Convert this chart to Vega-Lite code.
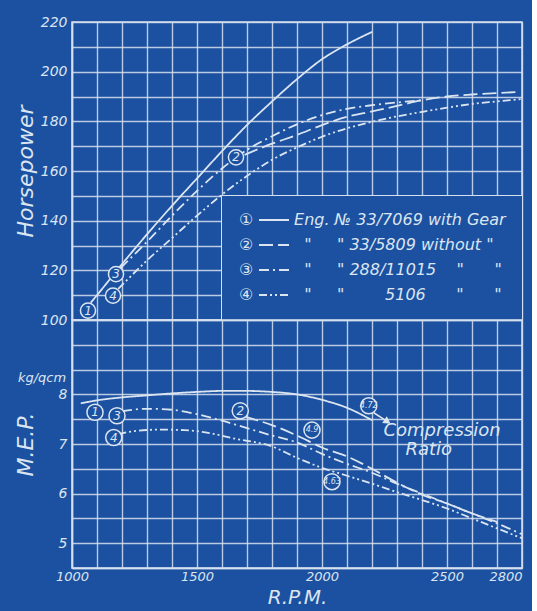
{
  "$schema": "https://vega.github.io/schema/vega-lite/v6.json",
  "background": "#1b51a0",
  "padding": {"left": 13, "top": 14, "right": 5, "bottom": 5},
  "bounds": "flush",
  "spacing": 0,
  "config": {
    "view": {"stroke": "#d6e1ef", "strokeWidth": 1.5},
    "axis": {
      "gridColor": "#d6e1ef", "gridWidth": 1.4, "gridOpacity": 0.85,
      "domainColor": "#d6e1ef", "domainWidth": 1.5, "ticks": false,
      "labelColor": "#dbe5f1", "labelFont": "DejaVu Sans", "labelFontStyle": "italic",
      "labelFontSize": 14, "labelPadding": 5, "labelOverlap": false, "labelFlush": false, "labelBound": false,
      "titleColor": "#dbe5f1", "titleFont": "DejaVu Sans", "titleFontStyle": "italic",
      "titleFontWeight": "normal", "titleFontSize": 22
    },
    "text": {"font": "DejaVu Sans", "fontStyle": "italic", "color": "#dbe5f1"}
  },
  "datasets": {
    "hp": [
      {"curve": "1", "rpm": 1075, "hp": 107},
      {"curve": "1", "rpm": 1100, "hp": 110},
      {"curve": "1", "rpm": 1200, "hp": 122.5},
      {"curve": "1", "rpm": 1300, "hp": 134.5},
      {"curve": "1", "rpm": 1400, "hp": 146},
      {"curve": "1", "rpm": 1500, "hp": 157},
      {"curve": "1", "rpm": 1600, "hp": 168},
      {"curve": "1", "rpm": 1700, "hp": 178.5},
      {"curve": "1", "rpm": 1800, "hp": 188},
      {"curve": "1", "rpm": 1900, "hp": 197},
      {"curve": "1", "rpm": 2000, "hp": 205},
      {"curve": "1", "rpm": 2100, "hp": 211},
      {"curve": "1", "rpm": 2200, "hp": 216},
      {"curve": "2", "rpm": 1690, "hp": 166.5},
      {"curve": "2", "rpm": 1800, "hp": 171},
      {"curve": "2", "rpm": 1900, "hp": 174.5},
      {"curve": "2", "rpm": 2000, "hp": 178.5},
      {"curve": "2", "rpm": 2100, "hp": 181.8},
      {"curve": "2", "rpm": 2200, "hp": 184},
      {"curve": "2", "rpm": 2300, "hp": 186.2},
      {"curve": "2", "rpm": 2400, "hp": 188.5},
      {"curve": "2", "rpm": 2500, "hp": 190},
      {"curve": "2", "rpm": 2600, "hp": 190.8},
      {"curve": "2", "rpm": 2700, "hp": 191.4},
      {"curve": "2", "rpm": 2790, "hp": 191.8},
      {"curve": "3", "rpm": 1195, "hp": 121},
      {"curve": "3", "rpm": 1300, "hp": 131.5},
      {"curve": "3", "rpm": 1400, "hp": 142},
      {"curve": "3", "rpm": 1500, "hp": 152},
      {"curve": "3", "rpm": 1600, "hp": 161},
      {"curve": "3", "rpm": 1700, "hp": 168.5},
      {"curve": "3", "rpm": 1800, "hp": 174},
      {"curve": "3", "rpm": 1900, "hp": 178.8},
      {"curve": "3", "rpm": 2000, "hp": 182.5},
      {"curve": "3", "rpm": 2100, "hp": 185},
      {"curve": "3", "rpm": 2200, "hp": 186.5},
      {"curve": "3", "rpm": 2300, "hp": 187.6},
      {"curve": "3", "rpm": 2400, "hp": 188.5},
      {"curve": "4", "rpm": 1185, "hp": 112.5},
      {"curve": "4", "rpm": 1300, "hp": 124},
      {"curve": "4", "rpm": 1400, "hp": 133},
      {"curve": "4", "rpm": 1500, "hp": 142},
      {"curve": "4", "rpm": 1600, "hp": 150.5},
      {"curve": "4", "rpm": 1700, "hp": 158},
      {"curve": "4", "rpm": 1800, "hp": 164.5},
      {"curve": "4", "rpm": 1900, "hp": 169.5},
      {"curve": "4", "rpm": 2000, "hp": 173.8},
      {"curve": "4", "rpm": 2100, "hp": 177.2},
      {"curve": "4", "rpm": 2200, "hp": 179.8},
      {"curve": "4", "rpm": 2300, "hp": 182},
      {"curve": "4", "rpm": 2400, "hp": 183.8},
      {"curve": "4", "rpm": 2500, "hp": 185.5},
      {"curve": "4", "rpm": 2600, "hp": 187},
      {"curve": "4", "rpm": 2700, "hp": 188},
      {"curve": "4", "rpm": 2800, "hp": 189}
    ],
    "mep": [
      {"curve": "1", "rpm": 1035, "mep": 7.82},
      {"curve": "1", "rpm": 1100, "mep": 7.88},
      {"curve": "1", "rpm": 1200, "mep": 7.94},
      {"curve": "1", "rpm": 1300, "mep": 7.98},
      {"curve": "1", "rpm": 1400, "mep": 8.02},
      {"curve": "1", "rpm": 1500, "mep": 8.05},
      {"curve": "1", "rpm": 1600, "mep": 8.07},
      {"curve": "1", "rpm": 1700, "mep": 8.07},
      {"curve": "1", "rpm": 1800, "mep": 8.05},
      {"curve": "1", "rpm": 1900, "mep": 8.0},
      {"curve": "1", "rpm": 2000, "mep": 7.89},
      {"curve": "1", "rpm": 2100, "mep": 7.73},
      {"curve": "1", "rpm": 2200, "mep": 7.48},
      {"curve": "2", "rpm": 1690, "mep": 7.55},
      {"curve": "2", "rpm": 1800, "mep": 7.38},
      {"curve": "2", "rpm": 1900, "mep": 7.17},
      {"curve": "2", "rpm": 2000, "mep": 6.93},
      {"curve": "2", "rpm": 2100, "mep": 6.75},
      {"curve": "2", "rpm": 2200, "mep": 6.5},
      {"curve": "2", "rpm": 2300, "mep": 6.22},
      {"curve": "2", "rpm": 2400, "mep": 5.98},
      {"curve": "2", "rpm": 2500, "mep": 5.8},
      {"curve": "2", "rpm": 2600, "mep": 5.6},
      {"curve": "2", "rpm": 2700, "mep": 5.43},
      {"curve": "3", "rpm": 1200, "mep": 7.66},
      {"curve": "3", "rpm": 1300, "mep": 7.71},
      {"curve": "3", "rpm": 1400, "mep": 7.69},
      {"curve": "3", "rpm": 1500, "mep": 7.6},
      {"curve": "3", "rpm": 1600, "mep": 7.47},
      {"curve": "3", "rpm": 1700, "mep": 7.32},
      {"curve": "3", "rpm": 1800, "mep": 7.17},
      {"curve": "3", "rpm": 1900, "mep": 7.03},
      {"curve": "3", "rpm": 2000, "mep": 6.8},
      {"curve": "3", "rpm": 2100, "mep": 6.6},
      {"curve": "3", "rpm": 2200, "mep": 6.42},
      {"curve": "3", "rpm": 2300, "mep": 6.2},
      {"curve": "3", "rpm": 2400, "mep": 6.0},
      {"curve": "3", "rpm": 2500, "mep": 5.8},
      {"curve": "3", "rpm": 2600, "mep": 5.6},
      {"curve": "3", "rpm": 2700, "mep": 5.4},
      {"curve": "3", "rpm": 2800, "mep": 5.18},
      {"curve": "4", "rpm": 1185, "mep": 7.2},
      {"curve": "4", "rpm": 1250, "mep": 7.26},
      {"curve": "4", "rpm": 1350, "mep": 7.29},
      {"curve": "4", "rpm": 1450, "mep": 7.28},
      {"curve": "4", "rpm": 1550, "mep": 7.22},
      {"curve": "4", "rpm": 1650, "mep": 7.11},
      {"curve": "4", "rpm": 1800, "mep": 6.95},
      {"curve": "4", "rpm": 1900, "mep": 6.72},
      {"curve": "4", "rpm": 2000, "mep": 6.52},
      {"curve": "4", "rpm": 2100, "mep": 6.36},
      {"curve": "4", "rpm": 2200, "mep": 6.2},
      {"curve": "4", "rpm": 2300, "mep": 6.03},
      {"curve": "4", "rpm": 2400, "mep": 5.87},
      {"curve": "4", "rpm": 2500, "mep": 5.7},
      {"curve": "4", "rpm": 2600, "mep": 5.5},
      {"curve": "4", "rpm": 2700, "mep": 5.3},
      {"curve": "4", "rpm": 2800, "mep": 5.1}
    ],
    "hpLabels": [
      {"label": "1", "rpm": 1064, "hp": 103.8},
      {"label": "3", "rpm": 1176, "hp": 118.5},
      {"label": "4", "rpm": 1164, "hp": 109.8},
      {"label": "2", "rpm": 1656, "hp": 165.5}
    ],
    "mepLabels": [
      {"label": "1", "rpm": 1092, "mep": 7.64, "kind": "engine"},
      {"label": "3", "rpm": 1180, "mep": 7.57, "kind": "engine"},
      {"label": "4", "rpm": 1167, "mep": 7.13, "kind": "engine"},
      {"label": "2", "rpm": 1673, "mep": 7.67, "kind": "engine"},
      {"label": "4.72", "rpm": 2187, "mep": 7.77, "kind": "ratio"},
      {"label": "4.9", "rpm": 1960, "mep": 7.28, "kind": "ratio"},
      {"label": "4.63", "rpm": 2040, "mep": 6.24, "kind": "ratio"}
    ],
    "notes": [
      {"text": "Compression", "rpm": 2480, "mep": 7.27},
      {"text": "Ratio", "rpm": 2427, "mep": 6.88}
    ],
    "unit": [
      {"text": "kg/qcm", "rpm": 880, "mep": 8.34}
    ],
    "arrow": [
      {"rpm": 2207, "mep": 7.63, "rpm2": 2262, "mep2": 7.45}
    ]
  },
  "resolve": {"legend": {"strokeDash": "independent"}},
  "vconcat": [
    {
      "width": 450,
      "height": 298,
      "layer": [
        {
          "data": {"name": "hp"},
          "mark": {"type": "line", "color": "#dbe5f1", "strokeWidth": 1.8, "interpolate": "monotone"},
          "encoding": {
            "x": {
              "field": "rpm", "type": "quantitative",
              "scale": {"domain": [1000, 2800], "nice": false, "zero": false},
              "axis": {
                "values": [1000, 1100, 1200, 1300, 1400, 1500, 1600, 1700, 1800, 1900, 2000, 2100, 2200, 2300, 2400, 2500, 2600, 2700, 2800],
                "tickCount": 100,
                "labels": false, "title": null, "domain": false, "grid": true
              }
            },
            "y": {
              "field": "hp", "type": "quantitative",
              "scale": {"domain": [100, 220], "nice": false, "zero": false},
              "axis": {
                "values": [100, 110, 120, 130, 140, 150, 160, 170, 180, 190, 200, 210, 220],
                "tickCount": 100,
                "labelExpr": "datum.value % 20 == 0 ? format(datum.value, 'd') : ''",
                "title": "Horsepower", "minExtent": 33, "maxExtent": 33, "titlePadding": 2
              }
            },
            "strokeDash": {
              "field": "curve", "type": "nominal",
              "scale": {"domain": ["1", "2", "3", "4"], "range": [[1, 0], [14, 5], [10, 4, 2, 4], [8, 3, 2, 3, 2, 3]]},
              "legend": {
                "orient": "bottom-right", "offset": 0, "title": null,
                "symbolType": "stroke", "symbolStrokeColor": "#dbe5f1", "symbolStrokeWidth": 1.8,
                "symbolSize": 900, "symbolOffset": 21, "labelOffset": -51, "clipHeight": 18,
                "rowPadding": 7, "padding": 16,
                "labelFont": "DejaVu Sans", "labelFontStyle": "italic", "labelFontSize": 16,
                "labelColor": "#dbe5f1", "labelLimit": 500,
                "fillColor": "#1b51a0", "strokeColor": "#d6e1ef",
                "labelExpr": "datum.label == '1' ? '①\u00a0\u00a0\u00a0\u00a0\u00a0\u00a0\u00a0\u00a0Eng. № 33/7069 with Gear' : datum.label == '2' ? '②\u00a0\u00a0\u00a0\u00a0\u00a0\u00a0\u00a0\u00a0\u00a0\u00a0\"\u00a0\u00a0\u00a0\u00a0\u00a0\" 33/5809 without \"' : datum.label == '3' ? '③\u00a0\u00a0\u00a0\u00a0\u00a0\u00a0\u00a0\u00a0\u00a0\u00a0\"\u00a0\u00a0\u00a0\u00a0\u00a0\" 288/11015\u00a0\u00a0\u00a0\u00a0\"\u00a0\u00a0\u00a0\u00a0\u00a0\u00a0\"' : '④\u00a0\u00a0\u00a0\u00a0\u00a0\u00a0\u00a0\u00a0\u00a0\u00a0\"\u00a0\u00a0\u00a0\u00a0\u00a0\"\u00a0\u00a0\u00a0\u00a0\u00a0\u00a0\u00a0\u00a05106\u00a0\u00a0\u00a0\u00a0\u00a0\u00a0\"\u00a0\u00a0\u00a0\u00a0\u00a0\u00a0\"'"
              }
            }
          }
        },
        {
          "data": {"name": "hpLabels"},
          "mark": {"type": "point", "shape": "circle", "filled": true, "fill": "#1b51a0", "stroke": "#dbe5f1", "strokeWidth": 1.5, "size": 230, "opacity": 1},
          "encoding": {
            "x": {"field": "rpm", "type": "quantitative"},
            "y": {"field": "hp", "type": "quantitative"}
          }
        },
        {
          "data": {"name": "hpLabels"},
          "mark": {"type": "text", "fontSize": 12},
          "encoding": {
            "x": {"field": "rpm", "type": "quantitative"},
            "y": {"field": "hp", "type": "quantitative"},
            "text": {"field": "label"}
          }
        }
      ]
    },
    {
      "width": 450,
      "height": 248,
      "layer": [
        {
          "data": {"name": "mep"},
          "mark": {"type": "line", "color": "#dbe5f1", "strokeWidth": 1.8, "interpolate": "monotone"},
          "encoding": {
            "x": {
              "field": "rpm", "type": "quantitative",
              "scale": {"domain": [1000, 2800], "nice": false, "zero": false},
              "axis": {
                "values": [1000, 1100, 1200, 1300, 1400, 1500, 1600, 1700, 1800, 1900, 2000, 2100, 2200, 2300, 2400, 2500, 2600, 2700, 2800],
                "tickCount": 100,
                "labelExpr": "datum.value % 500 == 0 || datum.value == 2800 ? format(datum.value, 'd') : ''",
                "labelAlign": {"expr": "datum.value == 2800 ? 'right' : 'center'"},
                "labelFontSize": 13, "labelPadding": 2,
                "title": "R.P.M.", "titleFontSize": 20, "titlePadding": 4, "domain": true, "grid": true
              }
            },
            "y": {
              "field": "mep", "type": "quantitative",
              "scale": {"domain": [4.5, 9.5], "nice": false, "zero": false},
              "axis": {
                "values": [4.5, 5, 5.5, 6, 6.5, 7, 7.5, 8, 8.5, 9, 9.5],
                "tickCount": 100,
                "labelExpr": "datum.value % 1 == 0 && datum.value < 9 ? format(datum.value, 'd') : ''",
                "title": "M.E.P.", "minExtent": 33, "maxExtent": 33, "titlePadding": 2
              }
            },
            "strokeDash": {
              "field": "curve", "type": "nominal",
              "scale": {"domain": ["1", "2", "3", "4"], "range": [[1, 0], [14, 5], [10, 4, 2, 4], [8, 3, 2, 3, 2, 3]]},
              "legend": null
            }
          }
        },
        {
          "data": {"name": "arrow"},
          "mark": {"type": "rule", "color": "#dbe5f1", "strokeWidth": 1.5},
          "encoding": {
            "x": {"field": "rpm", "type": "quantitative"},
            "y": {"field": "mep", "type": "quantitative"},
            "x2": {"field": "rpm2"},
            "y2": {"field": "mep2"}
          }
        },
        {
          "data": {"name": "arrow"},
          "mark": {"type": "point", "shape": "triangle-right", "filled": true, "color": "#dbe5f1", "size": 70, "angle": 34, "opacity": 1},
          "encoding": {
            "x": {"field": "rpm2", "type": "quantitative"},
            "y": {"field": "mep2", "type": "quantitative"}
          }
        },
        {
          "data": {"name": "mepLabels"},
          "mark": {"type": "point", "shape": "circle", "filled": true, "fill": "#1b51a0", "stroke": "#dbe5f1", "strokeWidth": 1.5, "size": 260, "opacity": 1},
          "encoding": {
            "x": {"field": "rpm", "type": "quantitative"},
            "y": {"field": "mep", "type": "quantitative"}
          }
        },
        {
          "data": {"name": "mepLabels"},
          "mark": {"type": "text"},
          "encoding": {
            "x": {"field": "rpm", "type": "quantitative"},
            "y": {"field": "mep", "type": "quantitative"},
            "text": {"field": "label"},
            "size": {"field": "kind", "type": "nominal", "scale": {"domain": ["engine", "ratio"], "range": [12, 8]}, "legend": null}
          }
        },
        {
          "data": {"name": "notes"},
          "mark": {"type": "text", "fontSize": 18},
          "encoding": {
            "x": {"field": "rpm", "type": "quantitative"},
            "y": {"field": "mep", "type": "quantitative"},
            "text": {"field": "text"}
          }
        },
        {
          "data": {"name": "unit"},
          "mark": {"type": "text", "fontSize": 13},
          "encoding": {
            "x": {"field": "rpm", "type": "quantitative"},
            "y": {"field": "mep", "type": "quantitative"},
            "text": {"field": "text"}
          }
        }
      ]
    }
  ]
}
